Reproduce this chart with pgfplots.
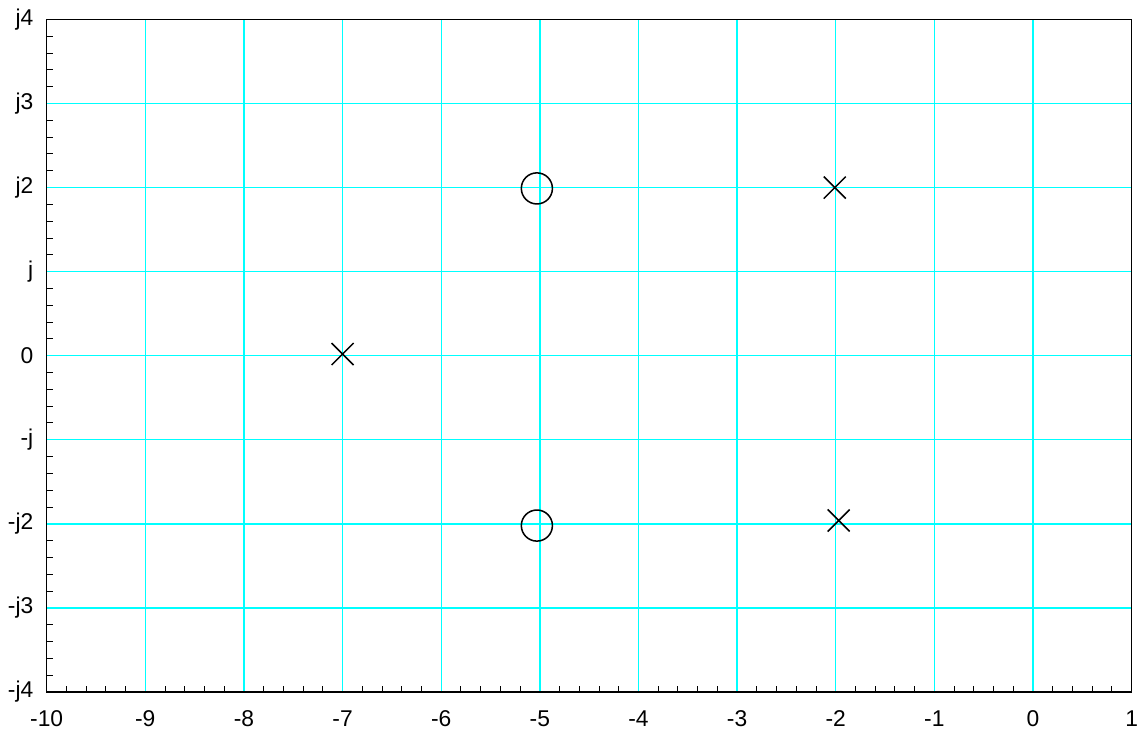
\documentclass[border=0pt]{standalone}
\usepackage{fontspec}
\setmainfont{Liberation Sans}
\usepackage{pgfplots}
\pgfplotsset{compat=1.18}
\definecolor{gridcyan}{rgb}{0,1,1}
\begin{document}
\begin{tikzpicture}
\begin{axis}[
  scale only axis,
  width=642pt, height=398pt,
  xmin=-10, xmax=1, ymin=-4, ymax=4,
  xtick={-10,-9,...,1},
  xticklabels={-10,-9,-8,-7,-6,-5,-4,-3,-2,-1,0,1},
  ytick={-4,-3,...,4},
  yticklabels={-j4,-j3,-j2,-j,0,j,j2,j3,j4},
  minor x tick num=4, minor y tick num=4,
  tick align=inside,
  xtick pos=bottom, ytick pos=left,
  major tick length=7pt, minor tick length=3.6pt,
  major tick style={draw=gridcyan, line width=0.8pt},
  minor tick style={draw=black, line width=0.6pt},
  grid=major,
  major grid style={draw=gridcyan, line width=0.8pt},
  axis line style={black, line width=0.9pt},
  ticklabel style={font=\fontsize{13.5}{16}\selectfont},
  yticklabel style={inner xsep=4.7pt, inner ysep=5.2pt, xshift=-3pt},
  xticklabel style={inner xsep=0pt, inner ysep=1.5pt, yshift=-9.5pt},
]
\addplot[only marks, mark=x, mark size=9.2pt, line width=0.9pt, black]
  coordinates {(-7,0.02) (-2.01,2.0) (-1.97,-1.96)};
\addplot[only marks, mark=o, mark size=9.2pt, line width=0.9pt, black]
  coordinates {(-5.03,1.99) (-5.03,-2.02)};
\end{axis}
\end{tikzpicture}
\end{document}
